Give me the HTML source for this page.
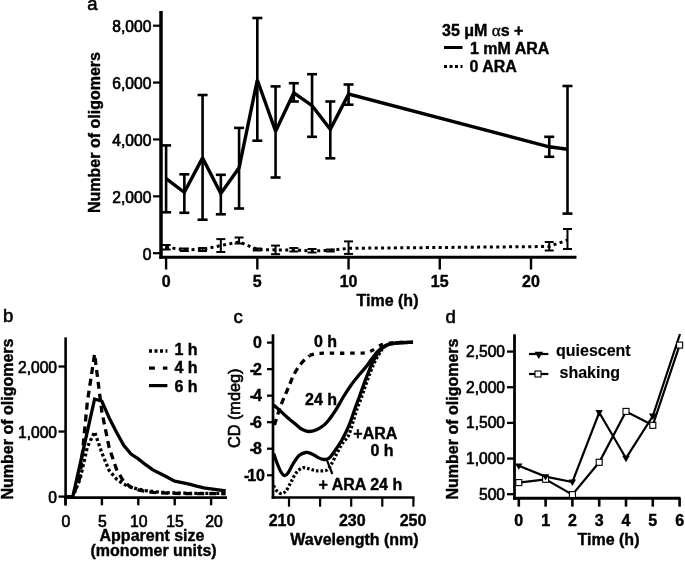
<!DOCTYPE html>
<html><head><meta charset="utf-8"><style>
html,body{margin:0;padding:0;background:#fff;}
body{width:685px;height:561px;overflow:hidden;}
svg{display:block;will-change:transform;}
text{font-family:"Liberation Sans",sans-serif;fill:#000;stroke:none;}
text.b{stroke:#000;stroke-width:0.4px;}
text.r{stroke:#000;stroke-width:0.65px;}
text.p{stroke:#000;stroke-width:0.6px;}
</style></head><body>
<svg width="685" height="561" viewBox="0 0 685 561">
<defs><clipPath id="clipb"><rect x="60" y="330" width="167" height="170"/></clipPath></defs>
<rect width="685" height="561" fill="#fff"/>
<g stroke="#000" stroke-linecap="butt">
<text x="87.20" y="10.30" text-anchor="start" font-size="18.5" font-weight="normal" class="p">a</text>
<line x1="161.00" y1="11.00" x2="161.00" y2="258.70" stroke-width="3.5" />
<line x1="159.30" y1="257.30" x2="576.50" y2="257.30" stroke-width="3" />
<line x1="153.00" y1="25.70" x2="161.00" y2="25.70" stroke-width="2.2" />
<text x="151.40" y="32.00" text-anchor="end" font-size="15.6" font-weight="normal" class="r">8,000</text>
<line x1="153.00" y1="82.57" x2="161.00" y2="82.57" stroke-width="2.2" />
<text x="151.40" y="88.87" text-anchor="end" font-size="15.6" font-weight="normal" class="r">6,000</text>
<line x1="153.00" y1="139.45" x2="161.00" y2="139.45" stroke-width="2.2" />
<text x="151.40" y="145.75" text-anchor="end" font-size="15.6" font-weight="normal" class="r">4,000</text>
<line x1="153.00" y1="196.32" x2="161.00" y2="196.32" stroke-width="2.2" />
<text x="151.40" y="202.62" text-anchor="end" font-size="15.6" font-weight="normal" class="r">2,000</text>
<line x1="153.00" y1="253.20" x2="161.00" y2="253.20" stroke-width="2.2" />
<text x="151.40" y="259.50" text-anchor="end" font-size="15.6" font-weight="normal" class="r">0</text>
<line x1="166.10" y1="257.00" x2="166.10" y2="269.50" stroke-width="2.4" />
<text x="166.10" y="287.00" text-anchor="middle" font-size="16" font-weight="bold" class="b" >0</text>
<line x1="257.32" y1="257.00" x2="257.32" y2="269.50" stroke-width="2.4" />
<text x="257.32" y="287.00" text-anchor="middle" font-size="16" font-weight="bold" class="b" >5</text>
<line x1="348.55" y1="257.00" x2="348.55" y2="269.50" stroke-width="2.4" />
<text x="348.55" y="287.00" text-anchor="middle" font-size="16" font-weight="bold" class="b" >10</text>
<line x1="439.77" y1="257.00" x2="439.77" y2="269.50" stroke-width="2.4" />
<text x="439.77" y="287.00" text-anchor="middle" font-size="16" font-weight="bold" class="b" >15</text>
<line x1="531.00" y1="257.00" x2="531.00" y2="269.50" stroke-width="2.4" />
<text x="531.00" y="287.00" text-anchor="middle" font-size="16" font-weight="bold" class="b" >20</text>
<text x="387.50" y="306.00" text-anchor="middle" font-size="16" font-weight="bold" class="b" >Time (h)</text>
<text transform="translate(100,132.5) rotate(-90)" text-anchor="middle" font-size="16" font-weight="bold" class="b">Number of oligomers</text>
<line x1="166.10" y1="145.40" x2="166.10" y2="212.30" stroke-width="2.6" />
<line x1="161.10" y1="145.40" x2="171.10" y2="145.40" stroke-width="2.6" />
<line x1="161.10" y1="212.30" x2="171.10" y2="212.30" stroke-width="2.6" />
<line x1="184.34" y1="174.30" x2="184.34" y2="212.80" stroke-width="2.6" />
<line x1="179.34" y1="174.30" x2="189.34" y2="174.30" stroke-width="2.6" />
<line x1="179.34" y1="212.80" x2="189.34" y2="212.80" stroke-width="2.6" />
<line x1="202.59" y1="95.00" x2="202.59" y2="219.70" stroke-width="2.6" />
<line x1="197.59" y1="95.00" x2="207.59" y2="95.00" stroke-width="2.6" />
<line x1="197.59" y1="219.70" x2="207.59" y2="219.70" stroke-width="2.6" />
<line x1="220.83" y1="174.80" x2="220.83" y2="214.30" stroke-width="2.6" />
<line x1="215.83" y1="174.80" x2="225.83" y2="174.80" stroke-width="2.6" />
<line x1="215.83" y1="214.30" x2="225.83" y2="214.30" stroke-width="2.6" />
<line x1="239.08" y1="127.90" x2="239.08" y2="208.50" stroke-width="2.6" />
<line x1="234.08" y1="127.90" x2="244.08" y2="127.90" stroke-width="2.6" />
<line x1="234.08" y1="208.50" x2="244.08" y2="208.50" stroke-width="2.6" />
<line x1="257.32" y1="18.00" x2="257.32" y2="140.70" stroke-width="2.6" />
<line x1="252.32" y1="18.00" x2="262.32" y2="18.00" stroke-width="2.6" />
<line x1="252.32" y1="140.70" x2="262.32" y2="140.70" stroke-width="2.6" />
<line x1="275.57" y1="86.40" x2="275.57" y2="177.50" stroke-width="2.6" />
<line x1="270.57" y1="86.40" x2="280.57" y2="86.40" stroke-width="2.6" />
<line x1="270.57" y1="177.50" x2="280.57" y2="177.50" stroke-width="2.6" />
<line x1="293.81" y1="83.20" x2="293.81" y2="101.50" stroke-width="2.6" />
<line x1="288.81" y1="83.20" x2="298.81" y2="83.20" stroke-width="2.6" />
<line x1="288.81" y1="101.50" x2="298.81" y2="101.50" stroke-width="2.6" />
<line x1="312.06" y1="74.20" x2="312.06" y2="136.80" stroke-width="2.6" />
<line x1="307.06" y1="74.20" x2="317.06" y2="74.20" stroke-width="2.6" />
<line x1="307.06" y1="136.80" x2="317.06" y2="136.80" stroke-width="2.6" />
<line x1="330.31" y1="101.50" x2="330.31" y2="158.30" stroke-width="2.6" />
<line x1="325.31" y1="101.50" x2="335.31" y2="101.50" stroke-width="2.6" />
<line x1="325.31" y1="158.30" x2="335.31" y2="158.30" stroke-width="2.6" />
<line x1="348.55" y1="84.50" x2="348.55" y2="104.70" stroke-width="2.6" />
<line x1="343.55" y1="84.50" x2="353.55" y2="84.50" stroke-width="2.6" />
<line x1="343.55" y1="104.70" x2="353.55" y2="104.70" stroke-width="2.6" />
<line x1="549.25" y1="136.80" x2="549.25" y2="156.80" stroke-width="2.6" />
<line x1="544.25" y1="136.80" x2="554.25" y2="136.80" stroke-width="2.6" />
<line x1="544.25" y1="156.80" x2="554.25" y2="156.80" stroke-width="2.6" />
<line x1="567.49" y1="86.00" x2="567.49" y2="213.60" stroke-width="2.6" />
<line x1="562.49" y1="86.00" x2="572.49" y2="86.00" stroke-width="2.6" />
<line x1="562.49" y1="213.60" x2="572.49" y2="213.60" stroke-width="2.6" />
<polyline points="166.1,178.6 184.3,192.3 202.6,157.9 220.8,193.5 239.1,167.8 257.3,80.0 275.6,131.3 293.8,92.8 312.1,105.7 330.3,129.4 348.6,94.1 549.2,146.8 567.5,149.3" fill="none" stroke-width="3.4" stroke-linejoin="miter" stroke-miterlimit="2"/>
<line x1="166.10" y1="245.00" x2="166.10" y2="249.50" stroke-width="2" />
<line x1="161.60" y1="245.00" x2="170.60" y2="245.00" stroke-width="2" />
<line x1="161.60" y1="249.50" x2="170.60" y2="249.50" stroke-width="2" />
<line x1="184.34" y1="248.50" x2="184.34" y2="251.00" stroke-width="2" />
<line x1="179.84" y1="248.50" x2="188.84" y2="248.50" stroke-width="2" />
<line x1="179.84" y1="251.00" x2="188.84" y2="251.00" stroke-width="2" />
<line x1="202.59" y1="248.00" x2="202.59" y2="251.00" stroke-width="2" />
<line x1="198.09" y1="248.00" x2="207.09" y2="248.00" stroke-width="2" />
<line x1="198.09" y1="251.00" x2="207.09" y2="251.00" stroke-width="2" />
<line x1="220.83" y1="239.10" x2="220.83" y2="252.00" stroke-width="2" />
<line x1="216.33" y1="239.10" x2="225.33" y2="239.10" stroke-width="2" />
<line x1="216.33" y1="252.00" x2="225.33" y2="252.00" stroke-width="2" />
<line x1="239.08" y1="237.50" x2="239.08" y2="243.50" stroke-width="2" />
<line x1="234.58" y1="237.50" x2="243.58" y2="237.50" stroke-width="2" />
<line x1="234.58" y1="243.50" x2="243.58" y2="243.50" stroke-width="2" />
<line x1="257.32" y1="248.50" x2="257.32" y2="250.50" stroke-width="2" />
<line x1="252.82" y1="248.50" x2="261.82" y2="248.50" stroke-width="2" />
<line x1="252.82" y1="250.50" x2="261.82" y2="250.50" stroke-width="2" />
<line x1="275.57" y1="245.60" x2="275.57" y2="254.20" stroke-width="2" />
<line x1="271.07" y1="245.60" x2="280.07" y2="245.60" stroke-width="2" />
<line x1="271.07" y1="254.20" x2="280.07" y2="254.20" stroke-width="2" />
<line x1="293.81" y1="248.00" x2="293.81" y2="251.50" stroke-width="2" />
<line x1="289.31" y1="248.00" x2="298.31" y2="248.00" stroke-width="2" />
<line x1="289.31" y1="251.50" x2="298.31" y2="251.50" stroke-width="2" />
<line x1="312.06" y1="249.00" x2="312.06" y2="252.50" stroke-width="2" />
<line x1="307.56" y1="249.00" x2="316.56" y2="249.00" stroke-width="2" />
<line x1="307.56" y1="252.50" x2="316.56" y2="252.50" stroke-width="2" />
<line x1="330.31" y1="249.50" x2="330.31" y2="251.50" stroke-width="2" />
<line x1="325.81" y1="249.50" x2="334.81" y2="249.50" stroke-width="2" />
<line x1="325.81" y1="251.50" x2="334.81" y2="251.50" stroke-width="2" />
<line x1="348.55" y1="241.40" x2="348.55" y2="253.90" stroke-width="2" />
<line x1="344.05" y1="241.40" x2="353.05" y2="241.40" stroke-width="2" />
<line x1="344.05" y1="253.90" x2="353.05" y2="253.90" stroke-width="2" />
<line x1="549.25" y1="242.00" x2="549.25" y2="250.50" stroke-width="2" />
<line x1="544.75" y1="242.00" x2="553.75" y2="242.00" stroke-width="2" />
<line x1="544.75" y1="250.50" x2="553.75" y2="250.50" stroke-width="2" />
<line x1="567.49" y1="229.00" x2="567.49" y2="249.00" stroke-width="2" />
<line x1="562.99" y1="229.00" x2="571.99" y2="229.00" stroke-width="2" />
<line x1="562.99" y1="249.00" x2="571.99" y2="249.00" stroke-width="2" />
<polyline points="166.1,247.2 184.3,249.9 202.6,249.4 220.8,245.6 239.1,241.9 257.3,249.4 275.6,249.9 293.8,249.9 312.1,251.0 330.3,250.4 348.6,248.3 549.2,246.5 567.5,240.0" fill="none" stroke-width="3" stroke-linejoin="miter" stroke-dasharray="3 3.4"/>
<text x="442.00" y="35.60" text-anchor="start" font-size="16" font-weight="bold" class="b" >35 μM <tspan font-family="Liberation Serif" font-weight="normal" font-size="17">α</tspan>s +</text>
<line x1="444.00" y1="47.50" x2="462.50" y2="47.50" stroke-width="3" />
<text x="470.00" y="53.80" text-anchor="start" font-size="16" font-weight="bold" class="b" >1 mM ARA</text>
<line x1="444.00" y1="66.50" x2="462.50" y2="66.50" stroke-width="3.2" stroke-dasharray="3 2.5"/>
<text x="469.50" y="72.00" text-anchor="start" font-size="16" font-weight="bold" class="b" >0 ARA</text>
<text x="3.00" y="322.40" text-anchor="start" font-size="18.5" font-weight="normal" class="p">b</text>
<line x1="65.60" y1="337.40" x2="65.60" y2="505.50" stroke-width="2.6" />
<line x1="64.30" y1="497.60" x2="227.00" y2="497.60" stroke-width="2.6" />
<line x1="58.50" y1="366.50" x2="65.60" y2="366.50" stroke-width="2.3" />
<text x="57.00" y="372.60" text-anchor="end" font-size="15.6" font-weight="normal" class="r">2,000</text>
<line x1="58.50" y1="431.55" x2="65.60" y2="431.55" stroke-width="2.3" />
<text x="57.00" y="437.65" text-anchor="end" font-size="15.6" font-weight="normal" class="r">1,000</text>
<line x1="58.50" y1="496.60" x2="65.60" y2="496.60" stroke-width="2.3" />
<text x="57.00" y="502.70" text-anchor="end" font-size="15.6" font-weight="normal" class="r">0</text>
<line x1="65.50" y1="497.60" x2="65.50" y2="505.30" stroke-width="2.4" />
<text x="65.90" y="526.50" text-anchor="middle" font-size="15.8" font-weight="normal" class="r">0</text>
<line x1="101.90" y1="497.60" x2="101.90" y2="505.30" stroke-width="2.4" />
<text x="102.30" y="526.50" text-anchor="middle" font-size="15.8" font-weight="normal" class="r">5</text>
<line x1="138.30" y1="497.60" x2="138.30" y2="505.30" stroke-width="2.4" />
<text x="138.70" y="526.50" text-anchor="middle" font-size="15.8" font-weight="normal" class="r">10</text>
<line x1="174.70" y1="497.60" x2="174.70" y2="505.30" stroke-width="2.4" />
<text x="175.10" y="526.50" text-anchor="middle" font-size="15.8" font-weight="normal" class="r">15</text>
<line x1="211.10" y1="497.60" x2="211.10" y2="505.30" stroke-width="2.4" />
<text x="214.10" y="526.50" text-anchor="middle" font-size="15.8" font-weight="normal" class="r">20</text>
<text x="152.00" y="541.00" text-anchor="middle" font-size="16" font-weight="bold" class="b" >Apparent size</text>
<text x="153.50" y="556.00" text-anchor="middle" font-size="16" font-weight="bold" class="b" >(monomer units)</text>
<text transform="translate(12.5,419) rotate(-90)" text-anchor="middle" font-size="16" font-weight="bold" class="b">Number of oligomers</text>
<g clip-path="url(#clipb)">
<polyline points="65.5,496.6 72.8,496.6 80.1,464.1 87.3,431.6 94.6,399.0 101.9,401.3 109.2,417.9 116.5,432.2 123.7,445.2 131.0,454.1 138.3,458.9 145.6,464.7 152.9,469.9 160.1,473.5 167.4,477.3 174.7,481.2 182.0,482.6 189.3,484.2 196.5,486.2 203.8,487.9 211.1,488.9 218.4,489.8 225.7,490.9" fill="none" stroke-width="3.3" stroke-linejoin="miter" />
<polyline points="65.5,496.6 72.8,496.6 80.1,477.1 87.3,402.3 94.6,354.1 101.9,412.0 109.2,447.8 116.5,469.3 123.7,481.6 131.0,487.2 138.3,489.8 145.6,491.4 152.9,492.4 160.1,492.9 167.4,493.2 174.7,493.4 182.0,493.5 189.3,493.6 196.5,493.6 203.8,493.7 211.1,493.7 218.4,493.7 225.7,493.7" fill="none" stroke-width="3.3" stroke-linejoin="miter" stroke-dasharray="7 5"/>
<polyline points="65.5,496.6 72.8,496.6 80.1,479.0 87.3,447.2 94.6,431.9 101.9,453.0 109.2,470.6 116.5,479.0 123.7,484.2 131.0,487.2 138.3,489.1 145.6,490.6 152.9,491.5 160.1,492.2 167.4,492.7 174.7,493.0 182.0,493.2 189.3,493.3 196.5,493.3 203.8,493.3 211.1,493.3 218.4,493.4 225.7,493.5" fill="none" stroke-width="3.3" stroke-linejoin="miter" stroke-dasharray="3 2.5"/>
</g>
<line x1="149.00" y1="351.00" x2="167.40" y2="351.00" stroke-width="3.5" stroke-dasharray="3 2.5"/>
<text x="174.50" y="354.50" text-anchor="start" font-size="16" font-weight="bold" class="b" >1 h</text>
<line x1="149.00" y1="368.10" x2="154.90" y2="368.10" stroke-width="3.2" />
<line x1="162.90" y1="368.10" x2="167.40" y2="368.10" stroke-width="3.2" />
<text x="174.50" y="373.00" text-anchor="start" font-size="16" font-weight="bold" class="b" >4 h</text>
<line x1="149.00" y1="385.60" x2="167.40" y2="385.60" stroke-width="3.2" />
<text x="174.50" y="391.70" text-anchor="start" font-size="16" font-weight="bold" class="b" >6 h</text>
<text x="233.50" y="322.50" text-anchor="start" font-size="18.5" font-weight="normal" class="p">c</text>
<line x1="273.00" y1="334.30" x2="273.00" y2="498.80" stroke-width="2.7" />
<line x1="271.70" y1="497.50" x2="414.50" y2="497.50" stroke-width="2.7" />
<line x1="267.00" y1="342.60" x2="273.00" y2="342.60" stroke-width="2.3" />
<text x="262.00" y="348.10" text-anchor="end" font-size="16" font-weight="bold" class="b" >0</text>
<line x1="267.00" y1="369.13" x2="273.00" y2="369.13" stroke-width="2.3" />
<text x="262.00" y="374.63" text-anchor="end" font-size="16" font-weight="bold" class="b" >-<tspan dx="-2">2</tspan></text>
<line x1="267.00" y1="395.66" x2="273.00" y2="395.66" stroke-width="2.3" />
<text x="262.00" y="401.16" text-anchor="end" font-size="16" font-weight="bold" class="b" >-<tspan dx="-2">4</tspan></text>
<line x1="267.00" y1="422.19" x2="273.00" y2="422.19" stroke-width="2.3" />
<text x="262.00" y="427.69" text-anchor="end" font-size="16" font-weight="bold" class="b" >-<tspan dx="-2">6</tspan></text>
<line x1="267.00" y1="448.72" x2="273.00" y2="448.72" stroke-width="2.3" />
<text x="262.00" y="454.22" text-anchor="end" font-size="16" font-weight="bold" class="b" >-<tspan dx="-2">8</tspan></text>
<line x1="267.00" y1="475.25" x2="273.00" y2="475.25" stroke-width="2.3" />
<text x="265.00" y="480.75" text-anchor="end" font-size="16" font-weight="bold" class="b" >-<tspan dx="-2">10</tspan></text>
<line x1="289.00" y1="497.50" x2="289.00" y2="506.70" stroke-width="2.2" />
<line x1="320.10" y1="497.50" x2="320.10" y2="506.70" stroke-width="2.2" />
<line x1="351.20" y1="497.50" x2="351.20" y2="506.70" stroke-width="2.2" />
<line x1="382.30" y1="497.50" x2="382.30" y2="506.70" stroke-width="2.2" />
<line x1="413.40" y1="497.50" x2="413.40" y2="506.70" stroke-width="2.2" />
<text x="282.00" y="525.80" text-anchor="middle" font-size="16" font-weight="bold" class="b" >210</text>
<text x="352.30" y="525.80" text-anchor="middle" font-size="16" font-weight="bold" class="b" >230</text>
<text x="413.00" y="525.80" text-anchor="middle" font-size="16" font-weight="bold" class="b" >250</text>
<text x="354.50" y="544.70" text-anchor="middle" font-size="16" font-weight="bold" class="b" >Wavelength (nm)</text>
<text transform="translate(239.8,408.3) rotate(-90)" text-anchor="middle" font-size="16.3" font-weight="normal" class="p">CD (mdeg)</text>
<path d="M274.5,425.0 C274.8,424.2 274.9,423.4 276.0,420.0 C277.1,416.6 279.2,409.8 281.2,404.5 C283.2,399.2 285.8,393.7 288.0,388.5 C290.2,383.3 292.2,377.8 294.5,373.5 C296.8,369.2 299.5,365.5 302.0,362.5 C304.5,359.5 308.3,356.8 309.6,355.6" fill="none" stroke-width="3.3" stroke-dasharray="6.5 4.5"/>
<path d="M309.6,355.3 C310.5,355.1 313.3,354.1 315.0,353.8 C316.7,353.5 317.5,353.4 320.0,353.3 C322.5,353.2 325.0,353.2 330.0,353.2 C335.0,353.2 344.2,353.3 350.0,353.2 C355.8,353.1 361.3,353.2 365.0,352.8 C368.7,352.4 369.3,351.8 372.0,350.5 C374.7,349.2 377.8,346.3 381.0,345.0 C384.2,343.7 387.8,343.2 391.0,342.8 C394.2,342.4 396.3,342.4 400.0,342.3 C403.7,342.2 410.8,342.3 413.0,342.3" fill="none" stroke-width="3.3" stroke-dasharray="4.4 5.8"/>
<path d="M273.6,405.0 C274.7,405.9 277.6,408.4 280.0,410.6 C282.4,412.8 285.3,415.7 288.0,418.0 C290.7,420.3 293.7,422.7 296.0,424.6 C298.3,426.5 299.9,428.2 302.0,429.3 C304.1,430.4 306.0,431.4 308.3,431.5 C310.6,431.6 313.5,431.0 316.0,430.0 C318.5,429.0 321.5,427.0 323.5,425.5 C325.5,424.0 326.6,422.7 328.0,421.0 C329.4,419.3 330.6,417.7 332.1,415.5 C333.6,413.3 335.2,411.0 337.1,407.8 C339.0,404.6 341.3,400.3 343.6,396.5 C345.9,392.7 348.3,388.9 351.0,385.2 C353.7,381.5 356.9,377.6 359.6,374.3 C362.3,371.0 364.8,368.5 367.1,365.5 C369.4,362.5 371.6,358.8 373.5,356.4 C375.4,353.9 376.9,352.3 378.5,350.8 C380.1,349.3 381.1,348.4 383.0,347.3 C384.9,346.2 387.2,344.8 390.0,344.0 C392.8,343.2 396.2,342.9 400.0,342.6 C403.8,342.3 410.8,342.4 413.0,342.3" fill="none" stroke-width="3.3" />
<path d="M273.6,485.6 C274.2,486.5 275.7,489.7 277.0,491.0 C278.3,492.3 280.1,493.6 281.6,493.6 C283.1,493.6 284.4,492.9 286.0,491.0 C287.6,489.1 289.3,485.0 291.0,482.0 C292.7,479.0 294.2,475.3 296.0,473.0 C297.8,470.7 300.0,468.8 302.0,468.0 C304.0,467.2 305.9,468.1 308.0,468.5 C310.1,468.9 312.6,470.0 314.6,470.4 C316.6,470.8 317.9,471.1 320.0,471.0 C322.1,470.9 325.1,471.2 327.0,470.0 C328.9,468.8 329.9,466.8 331.5,464.0 C333.1,461.2 335.1,456.8 336.8,453.5 C338.6,450.2 340.1,447.0 342.0,444.0 C343.9,441.0 346.6,439.2 348.4,435.7 C350.2,432.2 351.3,427.3 352.7,423.0 C354.1,418.7 355.2,414.4 356.7,410.0 C358.2,405.6 360.2,400.8 361.8,396.5 C363.4,392.2 364.6,388.3 366.0,384.2 C367.4,380.1 369.1,375.6 370.5,372.0 C371.9,368.4 373.2,365.2 374.5,362.5 C375.8,359.8 377.0,357.8 378.3,355.5 C379.6,353.2 381.1,350.7 382.5,349.0 C383.9,347.3 385.2,346.2 387.0,345.3 C388.8,344.4 390.8,344.0 393.0,343.6 C395.2,343.2 396.7,343.0 400.0,342.8 C403.3,342.6 410.8,342.4 413.0,342.3" fill="none" stroke-width="3.2" stroke-dasharray="2.6 2"/>
<path d="M273.6,453.5 C274.2,455.1 275.8,459.9 277.0,463.0 C278.2,466.1 279.8,469.9 281.0,472.0 C282.2,474.1 283.1,475.3 284.3,475.5 C285.5,475.7 286.6,474.9 288.0,473.0 C289.4,471.1 291.2,466.9 293.0,464.0 C294.8,461.1 296.9,457.4 299.0,455.5 C301.1,453.6 303.5,452.8 305.7,452.5 C307.9,452.2 309.9,453.2 312.0,454.0 C314.1,454.8 316.1,456.6 318.0,457.5 C319.9,458.4 321.7,459.4 323.5,459.5 C325.3,459.6 327.1,459.6 328.8,458.3 C330.6,457.1 331.9,454.9 334.0,452.0 C336.1,449.1 339.2,444.5 341.3,441.0 C343.4,437.5 345.0,434.2 346.5,431.0 C348.0,427.8 349.2,425.0 350.5,421.5 C351.8,418.0 353.0,414.2 354.5,410.0 C356.0,405.8 357.9,400.8 359.5,396.5 C361.1,392.2 362.3,388.3 363.8,384.2 C365.3,380.1 367.1,375.6 368.5,372.0 C369.9,368.4 371.2,365.2 372.5,362.5 C373.8,359.8 375.1,357.8 376.5,355.5 C377.9,353.2 379.4,350.7 381.0,349.0 C382.6,347.3 384.2,346.2 386.0,345.3 C387.8,344.4 389.7,344.0 392.0,343.6 C394.3,343.2 396.5,343.0 400.0,342.8 C403.5,342.6 410.8,342.4 413.0,342.3" fill="none" stroke-width="3.3" />
<line x1="326.70" y1="459.70" x2="332.40" y2="474.00" stroke-width="2.2" />
<text x="314.00" y="347.30" text-anchor="start" font-size="16" font-weight="bold" class="b" >0 h</text>
<text x="305.00" y="405.30" text-anchor="start" font-size="16" font-weight="bold" class="b" >24 h</text>
<text x="353.30" y="439.30" text-anchor="start" font-size="16" font-weight="bold" class="b" >+ARA</text>
<text x="370.50" y="455.70" text-anchor="start" font-size="16" font-weight="bold" class="b" >0 h</text>
<text x="318.50" y="489.50" text-anchor="start" font-size="16" font-weight="bold" class="b" >+ ARA 24 h</text>
<text x="445.50" y="323.30" text-anchor="start" font-size="18.5" font-weight="normal" class="p">d</text>
<line x1="514.50" y1="334.30" x2="514.50" y2="499.70" stroke-width="2.8" />
<line x1="513.10" y1="498.20" x2="680.50" y2="498.20" stroke-width="2.9" />
<line x1="507.00" y1="351.60" x2="514.50" y2="351.60" stroke-width="2.3" />
<text x="505.00" y="357.00" text-anchor="end" font-size="15.6" font-weight="normal" class="r">2,500</text>
<line x1="507.00" y1="387.25" x2="514.50" y2="387.25" stroke-width="2.3" />
<text x="505.00" y="392.65" text-anchor="end" font-size="15.6" font-weight="normal" class="r">2,000</text>
<line x1="507.00" y1="422.90" x2="514.50" y2="422.90" stroke-width="2.3" />
<text x="505.00" y="428.30" text-anchor="end" font-size="15.6" font-weight="normal" class="r">1,500</text>
<line x1="507.00" y1="458.55" x2="514.50" y2="458.55" stroke-width="2.3" />
<text x="505.00" y="463.95" text-anchor="end" font-size="15.6" font-weight="normal" class="r">1,000</text>
<line x1="507.00" y1="494.20" x2="514.50" y2="494.20" stroke-width="2.3" />
<text x="505.00" y="499.60" text-anchor="end" font-size="15.6" font-weight="normal" class="r">500</text>
<line x1="518.80" y1="498.20" x2="518.80" y2="506.60" stroke-width="2.6" />
<text x="518.80" y="525.70" text-anchor="middle" font-size="16" font-weight="bold" class="b" >0</text>
<line x1="545.60" y1="498.20" x2="545.60" y2="506.60" stroke-width="2.6" />
<text x="545.60" y="525.70" text-anchor="middle" font-size="16" font-weight="bold" class="b" >1</text>
<line x1="572.40" y1="498.20" x2="572.40" y2="506.60" stroke-width="2.6" />
<text x="572.40" y="525.70" text-anchor="middle" font-size="16" font-weight="bold" class="b" >2</text>
<line x1="599.20" y1="498.20" x2="599.20" y2="506.60" stroke-width="2.6" />
<text x="599.20" y="525.70" text-anchor="middle" font-size="16" font-weight="bold" class="b" >3</text>
<line x1="626.00" y1="498.20" x2="626.00" y2="506.60" stroke-width="2.6" />
<text x="626.00" y="525.70" text-anchor="middle" font-size="16" font-weight="bold" class="b" >4</text>
<line x1="652.80" y1="498.20" x2="652.80" y2="506.60" stroke-width="2.6" />
<text x="652.80" y="525.70" text-anchor="middle" font-size="16" font-weight="bold" class="b" >5</text>
<line x1="679.60" y1="498.20" x2="679.60" y2="506.60" stroke-width="2.6" />
<text x="679.60" y="525.70" text-anchor="middle" font-size="16" font-weight="bold" class="b" >6</text>
<text x="608.50" y="544.50" text-anchor="middle" font-size="16" font-weight="bold" class="b" >Time (h)</text>
<text transform="translate(457.5,419) rotate(-90)" text-anchor="middle" font-size="16" font-weight="bold" class="b">Number of oligomers</text>
<polyline points="518.8,465.8 545.6,476.6 572.4,482.0 599.2,412.5 626.0,458.2 652.8,416.0 680.0,334.0" fill="none" stroke-width="2.2" stroke-linejoin="miter" />
<polyline points="518.8,482.6 545.6,479.3 572.4,494.6 599.2,462.3 626.0,411.4 652.8,425.3 679.6,345.1" fill="none" stroke-width="2.2" stroke-linejoin="miter" />
<rect x="515.8" y="479.6" width="6" height="6" fill="#fff" stroke-width="1.1"/>
<rect x="542.6" y="476.3" width="6" height="6" fill="#fff" stroke-width="1.1"/>
<rect x="569.4" y="491.6" width="6" height="6" fill="#fff" stroke-width="1.1"/>
<rect x="596.2" y="459.3" width="6" height="6" fill="#fff" stroke-width="1.1"/>
<rect x="623.0" y="408.4" width="6" height="6" fill="#fff" stroke-width="1.1"/>
<rect x="649.8" y="422.3" width="6" height="6" fill="#fff" stroke-width="1.1"/>
<rect x="676.6" y="342.1" width="6" height="6" fill="#fff" stroke-width="1.1"/>
<polygon points="515.0,463.4 522.5,463.4 518.8,469.8" fill="#000" stroke="none"/>
<polygon points="541.8,474.2 549.3,474.2 545.6,480.6" fill="#000" stroke="none"/>
<polygon points="568.6,479.6 576.1,479.6 572.4,486.0" fill="#000" stroke="none"/>
<polygon points="595.4,410.1 602.9,410.1 599.2,416.5" fill="#000" stroke="none"/>
<polygon points="622.2,455.8 629.8,455.8 626.0,462.2" fill="#000" stroke="none"/>
<polygon points="649.0,413.6 656.5,413.6 652.8,420.0" fill="#000" stroke="none"/>
<line x1="529.00" y1="354.00" x2="548.40" y2="354.00" stroke-width="2.2" />
<polygon points="534.5,351.7 543.1,351.7 538.8,359.1" fill="#000" stroke="none"/>
<text x="556.00" y="356.00" text-anchor="start" font-size="16" font-weight="bold" class="b" style="stroke-width:0.15px">quiescent</text>
<line x1="529.00" y1="374.00" x2="548.40" y2="374.00" stroke-width="2.2" />
<rect x="535.0" y="371.0" width="6" height="6" fill="#fff" stroke-width="1.1"/>
<text x="559.50" y="378.00" text-anchor="start" font-size="16" font-weight="bold" class="b" style="stroke-width:0.15px">shaking</text>
</g>
</svg>
</body></html>
